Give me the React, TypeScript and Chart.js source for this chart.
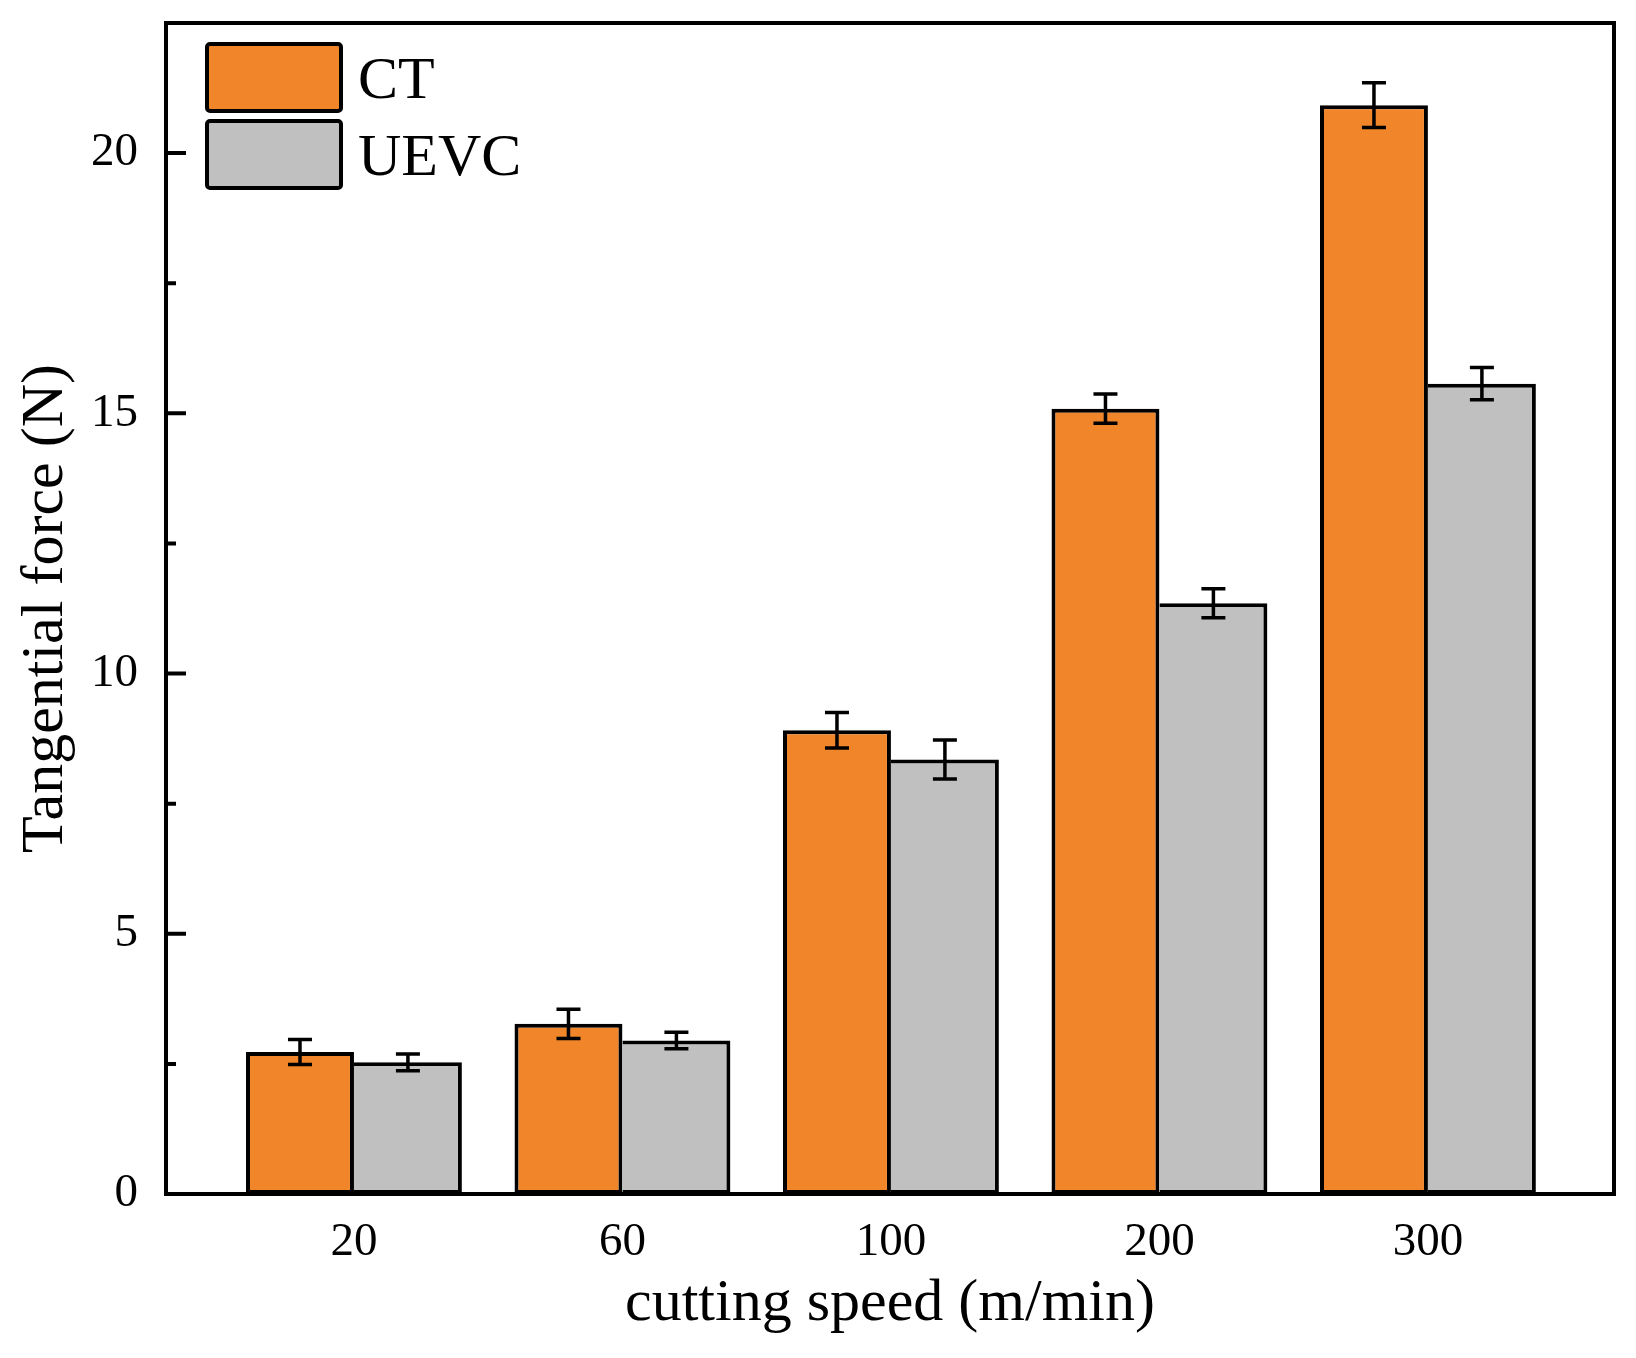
import { useEffect, useRef } from 'react'
import { Chart, registerables } from 'chart.js'

Chart.register(...registerables)

// cutting speed (m/min)
const speeds = ['20', '60', '100', '200', '300']
// tangential force (N)
const ctForce = [2.73, 3.27, 8.91, 15.09, 20.92]
const ctErr = [0.24, 0.28, 0.34, 0.28, 0.43]
const uevcForce = [2.53, 2.95, 8.35, 11.35, 15.57]
const uevcErr = [0.16, 0.16, 0.375, 0.28, 0.31]
const yMajorTicks = [0, 5, 10, 15, 20]
const yMinorTicks = [2.5, 7.5, 12.5, 17.5]

const ORANGE = '#F0852A'
const GREY = '#C0C0C0'
const FONT = "'Liberation Serif', 'Times New Roman', serif"

// error bars, inward tick marks, box frame and the in-plot legend
const decorPlugin = {
  id: 'decor',
  afterDatasetsDraw(chart: any) {
    const { ctx, chartArea: a, scales } = chart
    const y = scales.y
    const errs = [ctErr, uevcErr]
    ctx.save()
    ctx.strokeStyle = '#000'
    ctx.lineCap = 'butt'

    chart.data.datasets.forEach((ds: any, di: number) => {
      const meta = chart.getDatasetMeta(di)
      meta.data.forEach((bar: any, i: number) => {
        const v = ds.data[i].y
        const e = errs[di][i]
        const x = bar.x
        const yTop = y.getPixelForValue(v + e)
        const yBot = y.getPixelForValue(v - e)
        ctx.lineWidth = 3.5
        ctx.beginPath()
        ctx.moveTo(x, yTop)
        ctx.lineTo(x, yBot)
        ctx.moveTo(x - 12, yTop)
        ctx.lineTo(x + 12, yTop)
        ctx.moveTo(x - 12, yBot)
        ctx.lineTo(x + 12, yBot)
        ctx.stroke()
      })
    })

    // y tick marks drawn inside the frame
    ctx.lineWidth = 4
    ctx.beginPath()
    yMajorTicks.forEach(v => {
      const py = y.getPixelForValue(v)
      ctx.moveTo(a.left, py)
      ctx.lineTo(a.left + 20, py)
    })
    yMinorTicks.forEach(v => {
      const py = y.getPixelForValue(v)
      ctx.moveTo(a.left, py)
      ctx.lineTo(a.left + 10, py)
    })
    ctx.stroke()

    ctx.lineWidth = 4
    ctx.strokeRect(a.left, a.top, a.right - a.left, a.bottom - a.top)

    // legend
    ctx.font = `60px ${FONT}`
    ctx.textAlign = 'left'
    ctx.textBaseline = 'alphabetic'
    chart.data.datasets.forEach((ds: any, i: number) => {
      const bx = a.left + 41
      const by = a.top + 21 + i * 77
      const bw = 134
      const bh = 67
      ctx.fillStyle = ds.backgroundColor
      ctx.beginPath()
      ctx.roundRect(bx, by, bw, bh, 3)
      ctx.fill()
      ctx.lineWidth = 4
      ctx.stroke()
      ctx.fillStyle = '#000'
      ctx.fillText(ds.label, bx + bw + 17, by + bh / 2 + 20)
    })
    ctx.restore()
  },
}

export default function App() {
  const canvasRef = useRef<HTMLCanvasElement>(null)

  useEffect(() => {
    if (!canvasRef.current) return

    const chart = new Chart(canvasRef.current, {
      type: 'bar',
      data: {
        datasets: [
          {
            label: 'CT',
            data: ctForce.map((v, i) => ({ x: i, y: v })),
            backgroundColor: ORANGE,
            borderColor: '#000',
            borderWidth: 4,
            borderSkipped: false,
          },
          {
            label: 'UEVC',
            data: uevcForce.map((v, i) => ({ x: i, y: v })),
            backgroundColor: GREY,
            borderColor: '#000',
            borderWidth: 4,
            borderSkipped: 'left',
          },
        ],
      },
      options: {
        animation: false,
        responsive: true,
        maintainAspectRatio: false,
        layout: { padding: { top: 23, right: 22, left: 0, bottom: 0 } },
        categoryPercentage: 0.804,
        barPercentage: 1,
        plugins: {
          legend: { display: false },
          tooltip: { enabled: false },
        },
        scales: {
          x: {
            type: 'linear',
            offset: false,
            min: -0.7,
            max: 4.693,
            afterBuildTicks: (scale: any) => {
              scale.ticks = speeds.map((_, i) => ({ value: i }))
            },
            afterFit: (scale: any) => {
              scale.height = 164
              scale.paddingLeft = 0
              scale.paddingRight = 0
            },
            grid: { display: false, drawTicks: false },
            border: { display: false },
            ticks: {
              color: '#000',
              padding: 20,
              font: { family: FONT, size: 47 },
              callback: (v: any) => speeds[v] ?? '',
            },
            title: {
              display: true,
              text: 'cutting speed (m/min)',
              color: '#000',
              font: { family: FONT, size: 60 },
              padding: { top: 0, bottom: 18 },
            },
          },
          y: {
            type: 'linear',
            min: 0,
            max: 22.5,
            afterBuildTicks: (scale: any) => {
              scale.ticks = yMajorTicks.map(v => ({ value: v }))
            },
            afterFit: (scale: any) => {
              scale.width = 166
              scale.paddingTop = 0
              scale.paddingBottom = 0
            },
            grid: { display: false, drawTicks: false },
            border: { display: false },
            ticks: {
              color: '#000',
              padding: 28,
              font: { family: FONT, size: 47 },
            },
            title: {
              display: true,
              text: 'Tangential force (N)',
              color: '#000',
              font: { family: FONT, size: 60 },
              padding: { top: 10, bottom: 0 },
            },
          },
        },
      } as any,
      plugins: [decorPlugin],
    })

    return () => chart.destroy()
  }, [])

  return (
    <div style={{ position: 'absolute', left: 0, top: 0, width: 1636, height: 1358, background: '#fff' }}>
      <canvas ref={canvasRef} />
    </div>
  )
}
